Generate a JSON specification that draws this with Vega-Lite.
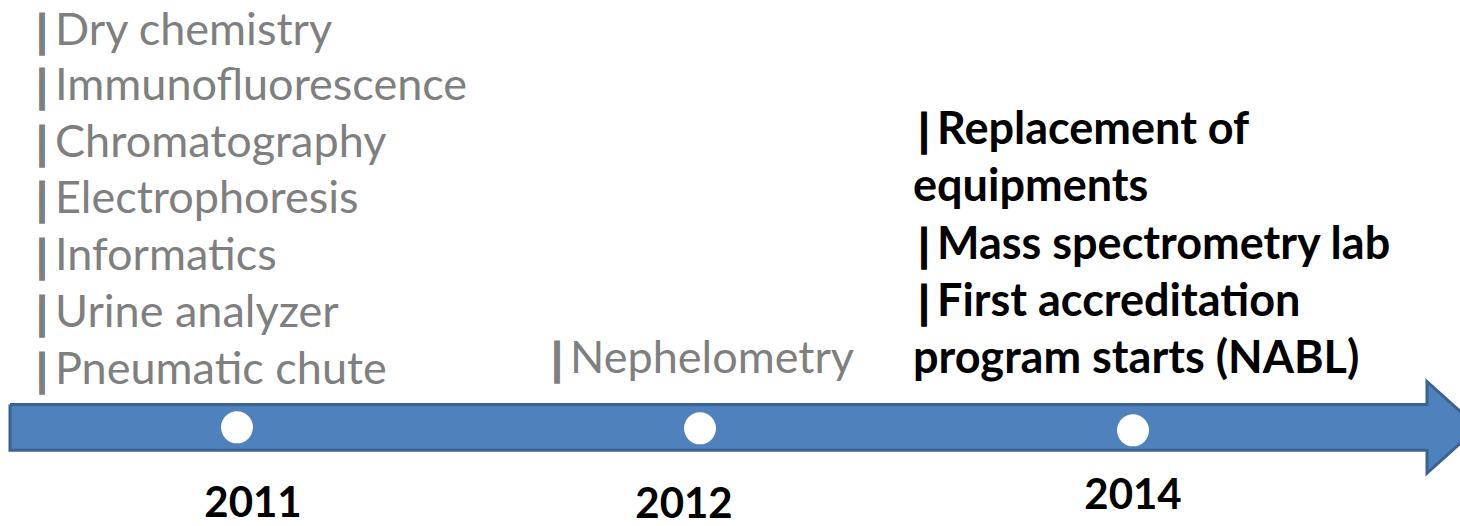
{
  "$schema": "https://vega.github.io/schema/vega-lite/v6.json",
  "autosize": {"type": "fit", "contains": "padding"},
  "width": 1460,
  "height": 526,
  "padding": 0,
  "background": "white",
  "config": {"view": {"stroke": null}},
  "datasets": {
    "arrow": [
      {"o": 1, "x": 10, "y": 406},
      {"o": 2, "x": 1427, "y": 406},
      {"o": 3, "x": 1427, "y": 383},
      {"o": 4, "x": 1478, "y": 429},
      {"o": 5, "x": 1427, "y": 475},
      {"o": 6, "x": 1427, "y": 452},
      {"o": 7, "x": 10, "y": 452},
      {"o": 8, "x": 10, "y": 406}
    ],
    "points": [
      {"year": "2011", "x": 237, "y": 429},
      {"year": "2012", "x": 700, "y": 430},
      {"year": "2014", "x": 1133, "y": 432}
    ],
    "years": [
      {"year": "2011", "x": 253, "y": 519},
      {"year": "2012", "x": 684, "y": 520},
      {"year": "2014", "x": 1133, "y": 511}
    ],
    "gray": [
      {"label": "Dry chemistry", "bullet": true, "x": 55, "y": 45},
      {"label": "Immunofluorescence", "bullet": true, "x": 55, "y": 100},
      {"label": "Chromatography", "bullet": true, "x": 55, "y": 158},
      {"label": "Electrophoresis", "bullet": true, "x": 55, "y": 214},
      {"label": "Informatics", "bullet": true, "x": 55, "y": 271},
      {"label": "Urine analyzer", "bullet": true, "x": 55, "y": 328},
      {"label": "Pneumatic chute", "bullet": true, "x": 55, "y": 385},
      {"label": "Nephelometry", "bullet": true, "x": 570, "y": 374}
    ],
    "black": [
      {"label": "Replacement of", "bullet": true, "x": 937, "y": 145},
      {"label": "equipments", "bullet": false, "x": 913, "y": 202},
      {"label": "Mass spectrometry lab", "bullet": true, "x": 937, "y": 260},
      {"label": "First accreditation", "bullet": true, "x": 937, "y": 317},
      {"label": "program starts (NABL)", "bullet": false, "x": 913, "y": 374}
    ]
  },
  "encoding": {},
  "layer": [
    {
      "data": {"name": "arrow"},
      "mark": {"type": "line", "fill": "#4f81bd", "stroke": "#3a6391", "strokeWidth": 3, "clip": true, "strokeJoin": "miter"},
      "encoding": {
        "x": {"field": "x", "type": "quantitative", "scale": {"domain": [0, 1460]}, "axis": null},
        "y": {"field": "y", "type": "quantitative", "scale": {"domain": [0, 526], "reverse": true}, "axis": null},
        "order": {"field": "o", "type": "quantitative"}
      }
    },
    {
      "data": {"name": "points"},
      "mark": {"type": "point", "shape": "circle", "filled": true, "color": "white", "opacity": 1, "size": 1024},
      "encoding": {
        "x": {"field": "x", "type": "quantitative", "scale": {"domain": [0, 1460]}, "axis": null},
        "y": {"field": "y", "type": "quantitative", "scale": {"domain": [0, 526], "reverse": true}, "axis": null}
      }
    },
    {
      "data": {"name": "years"},
      "mark": {"type": "text", "font": "Lato", "fontWeight": "bold", "fontSize": 42, "align": "center", "baseline": "alphabetic", "color": "black"},
      "encoding": {
        "x": {"field": "x", "type": "quantitative", "scale": {"domain": [0, 1460]}, "axis": null},
        "y": {"field": "y", "type": "quantitative", "scale": {"domain": [0, 526], "reverse": true}, "axis": null},
        "text": {"field": "year"}
      }
    },
    {
      "data": {"name": "gray"},
      "mark": {"type": "text", "font": "Lato", "fontSize": 45, "align": "left", "baseline": "alphabetic", "color": "#7f7f7f"},
      "encoding": {
        "x": {"field": "x", "type": "quantitative", "scale": {"domain": [0, 1460]}, "axis": null},
        "y": {"field": "y", "type": "quantitative", "scale": {"domain": [0, 526], "reverse": true}, "axis": null},
        "text": {"field": "label"}
      }
    },
    {
      "data": {"name": "gray"},
      "transform": [{"filter": "datum.bullet"}],
      "mark": {"type": "text", "font": "Lato", "fontWeight": "bold", "fontSize": 44, "align": "center", "baseline": "alphabetic", "color": "#7f7f7f", "stroke": "#7f7f7f", "strokeWidth": 1.5, "dx": -13, "dy": 3, "text": "|"},
      "encoding": {
        "x": {"field": "x", "type": "quantitative", "scale": {"domain": [0, 1460]}, "axis": null},
        "y": {"field": "y", "type": "quantitative", "scale": {"domain": [0, 526], "reverse": true}, "axis": null}
      }
    },
    {
      "data": {"name": "black"},
      "mark": {"type": "text", "font": "Lato", "fontWeight": "bold", "fontSize": 45, "align": "left", "baseline": "alphabetic", "color": "black"},
      "encoding": {
        "x": {"field": "x", "type": "quantitative", "scale": {"domain": [0, 1460]}, "axis": null},
        "y": {"field": "y", "type": "quantitative", "scale": {"domain": [0, 526], "reverse": true}, "axis": null},
        "text": {"field": "label"}
      }
    },
    {
      "data": {"name": "black"},
      "transform": [{"filter": "datum.bullet"}],
      "mark": {"type": "text", "font": "Lato", "fontWeight": "bold", "fontSize": 44, "align": "center", "baseline": "alphabetic", "color": "black", "stroke": "black", "strokeWidth": 1.5, "dx": -13, "dy": 3, "text": "|"},
      "encoding": {
        "x": {"field": "x", "type": "quantitative", "scale": {"domain": [0, 1460]}, "axis": null},
        "y": {"field": "y", "type": "quantitative", "scale": {"domain": [0, 526], "reverse": true}, "axis": null}
      }
    }
  ]
}
